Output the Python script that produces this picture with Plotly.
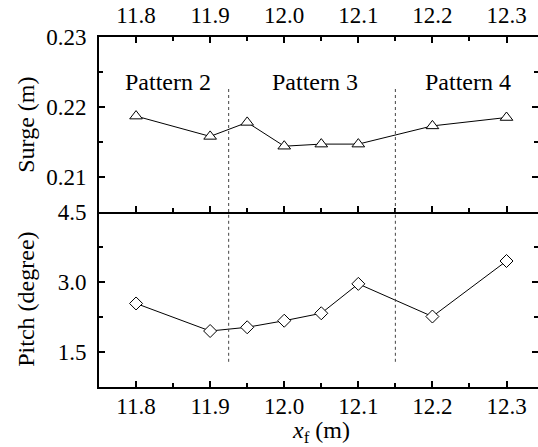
import plotly.graph_objects as go
from plotly.subplots import make_subplots

x_vals = [11.8, 11.9, 11.95, 12.0, 12.05, 12.1, 12.2, 12.3]
surge = [0.2187, 0.2158, 0.2178, 0.2144, 0.2147, 0.2147, 0.2173, 0.2185]
pitch = [2.54, 1.95, 2.03, 2.17, 2.33, 2.96, 2.26, 3.45]
x_ticks = [11.8, 11.9, 12.0, 12.1, 12.2, 12.3]
x_tick_text = ["11.8", "11.9", "12.0", "12.1", "12.2", "12.3"]
surge_ticks = [0.21, 0.22, 0.23]
pitch_ticks = [1.5, 3.0, 4.5]
pattern_labels = ["Pattern 2", "Pattern 3", "Pattern 4"]
pattern_x = [11.843, 12.042, 12.248]
boundaries = [11.925, 12.15]

FONT = "Liberation Serif"
FS = 23
FT = 24

fig = make_subplots(rows=2, cols=1, shared_xaxes=False, vertical_spacing=0)

fig.add_trace(go.Scatter(
    x=x_vals, y=surge, mode="lines+markers",
    line=dict(color="black", width=1),
    marker=dict(symbol="triangle-up", size=11, color="white",
                line=dict(color="black", width=1)),
    showlegend=False), row=1, col=1)

fig.add_trace(go.Scatter(
    x=x_vals, y=pitch, mode="lines+markers",
    line=dict(color="black", width=1),
    marker=dict(symbol="diamond", size=10, color="white",
                line=dict(color="black", width=1)),
    showlegend=False), row=2, col=1)

xrange = [11.75, 12.3425]
common_x = dict(range=xrange, tickvals=x_ticks, ticktext=x_tick_text,
                ticks="inside", ticklen=6, tickwidth=1.5, tickcolor="black",
                minor=dict(ticks="inside", dtick=0.05, tick0=11.75, ticklen=4,
                           tickwidth=1.5, tickcolor="black"),
                showline=True, linecolor="black", linewidth=2,
                showgrid=False, zeroline=False,
                tickfont=dict(family=FONT, size=FS))

fig.update_xaxes(side="top", mirror="ticks", ticklabelstandoff=3, **common_x, row=1, col=1)
fig.update_xaxes(side="bottom", mirror=False, ticklabelstandoff=-3, **common_x, row=2, col=1)

common_y = dict(ticks="inside", ticklen=6, tickwidth=1.5, tickcolor="black",
                showline=True, linecolor="black", linewidth=2, mirror="ticks",
                showgrid=False, zeroline=False,
                tickfont=dict(family=FONT, size=FS),
                ticklabelstandoff=6)

fig.update_yaxes(range=[0.205, 0.23], tickvals=surge_ticks,
                 tickformat=".2f",
                 minor=dict(ticks="inside", dtick=0.005, tick0=0.205, ticklen=4,
                            tickwidth=1.5, tickcolor="black"),
                 **common_y, row=1, col=1)
fig.update_yaxes(range=[0.75, 4.5], tickvals=pitch_ticks,
                 tickformat=".1f",
                 minor=dict(ticks="inside", dtick=0.75, tick0=0.75, ticklen=4,
                            tickwidth=1.5, tickcolor="black"),
                 **common_y, row=2, col=1)

for b in boundaries:
    fig.add_shape(type="line", x0=b, x1=b, y0=0.205, y1=0.223,
                  xref="x", yref="y", line=dict(color="#444444", width=1, dash="dot"))
    fig.add_shape(type="line", x0=b, x1=b, y0=1.29, y1=4.5,
                  xref="x2", yref="y2", line=dict(color="#444444", width=1, dash="dot"))

for lab, px in zip(pattern_labels, pattern_x):
    fig.add_annotation(x=px, y=0.2236, xref="x", yref="y", text=lab,
                       showarrow=False, xanchor="center", yanchor="middle",
                       font=dict(family=FONT, size=FT))

fig.add_annotation(x=-0.168, y=0.75, xref="paper", yref="paper",
                   text="Surge (m)", textangle=-90, showarrow=False,
                   xanchor="center", yanchor="middle",
                   font=dict(family=FONT, size=FT))
fig.add_annotation(x=-0.168, y=0.25, xref="paper", yref="paper",
                   text="Pitch (degree)", textangle=-90, showarrow=False,
                   xanchor="center", yanchor="middle",
                   font=dict(family=FONT, size=FT))
fig.add_annotation(x=(320.5 - 99) / 439, y=-(432 - 387) / 350, xref="paper", yref="paper",
                   text="<i>x</i><sub>f</sub> (m)", showarrow=False,
                   xanchor="center", yanchor="middle",
                   font=dict(family=FONT, size=FT))

fig.update_layout(width=538, height=447,
                  margin=dict(l=99, r=0, t=37, b=60, autoexpand=False),
                  paper_bgcolor="white", plot_bgcolor="white",
                  font=dict(family=FONT, size=FS, color="#000000"))

fig.write_html("out.html")
